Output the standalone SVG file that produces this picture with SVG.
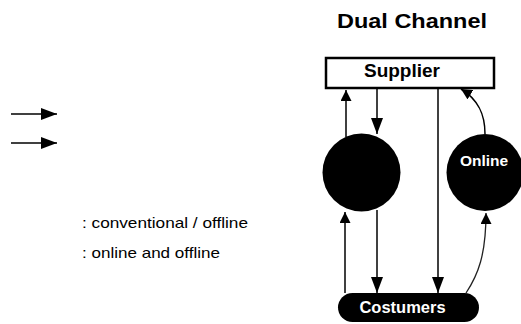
<svg xmlns="http://www.w3.org/2000/svg" width="521" height="324" viewBox="0 0 521 324">
<style>
  text { font-family: "Liberation Sans", Arial, sans-serif; }
  .bold { font-weight: bold; }
  .line { fill: none; stroke: #000; stroke-width: 1.5; }
  .thin { fill: none; stroke: #222; stroke-width: 1.3; }
  .node { fill: #000; }
  .white { fill: #fff; }
</style>
<defs>
  <marker id="ahLong" viewBox="0 0 16 12" refX="16" refY="6" markerWidth="16" markerHeight="12" markerUnits="userSpaceOnUse" orient="auto">
    <path d="M0,0 L16,6 L0,12 Z" fill="#000"/>
  </marker>
  <marker id="ahShort" viewBox="0 0 11 11" refX="11" refY="5.5" markerWidth="11" markerHeight="11" markerUnits="userSpaceOnUse" orient="auto">
    <path d="M0,0 L11,5.5 L0,11 Z" fill="#000"/>
  </marker>
</defs>
<rect width="521" height="324" fill="#fff"/>

<text id="title" class="bold" x="412" y="28" font-size="21" text-anchor="middle" textLength="150" lengthAdjust="spacingAndGlyphs">Dual Channel</text>

<g id="legend">
  <line class="line" x1="11" y1="114" x2="57" y2="114" marker-end="url(#ahLong)"/>
  <line class="line" x1="11" y1="143" x2="57" y2="143" marker-end="url(#ahLong)"/>
  <text x="82" y="228" font-size="15" textLength="166" lengthAdjust="spacingAndGlyphs">: conventional / offline</text>
  <text x="82" y="258" font-size="15" textLength="138" lengthAdjust="spacingAndGlyphs">: online and offline</text>
</g>

<g id="connectors">
  <line class="line" x1="346" y1="137" x2="346" y2="90" marker-end="url(#ahShort)"/>
  <line class="line" x1="377" y1="89" x2="377" y2="134" marker-end="url(#ahLong)"/>
  <line class="line" x1="345" y1="293" x2="345" y2="212" marker-end="url(#ahShort)"/>
  <line class="line" x1="377" y1="210" x2="377" y2="293" marker-end="url(#ahLong)"/>
  <line class="line" x1="438" y1="89" x2="438" y2="293" marker-end="url(#ahLong)"/>
  <path class="line" d="M485,134 C485,115 479,100 461,89" marker-end="url(#ahShort)"/>
  <path class="thin" d="M466,293 C478,275 486,255 486,213" marker-end="url(#ahShort)"/>
</g>

<g id="supplier">
  <rect x="326" y="58" width="168" height="30" fill="#fff" stroke="#000" stroke-width="2.5"/>
  <text class="bold" x="402" y="77" font-size="19" text-anchor="middle">Supplier</text>
</g>

<g id="offline">
  <circle class="node" cx="361.5" cy="172.5" r="39"/>
</g>

<g id="online">
  <circle class="node" cx="485" cy="172.5" r="38.5"/>
  <text class="bold white" x="484" y="166" font-size="15.5" text-anchor="middle">Online</text>
</g>

<g id="costumers">
  <rect class="node" x="338" y="293" width="141" height="29" rx="14.5"/>
  <text class="bold white" x="402.5" y="313" font-size="16.5" text-anchor="middle">Costumers</text>
</g>
</svg>
